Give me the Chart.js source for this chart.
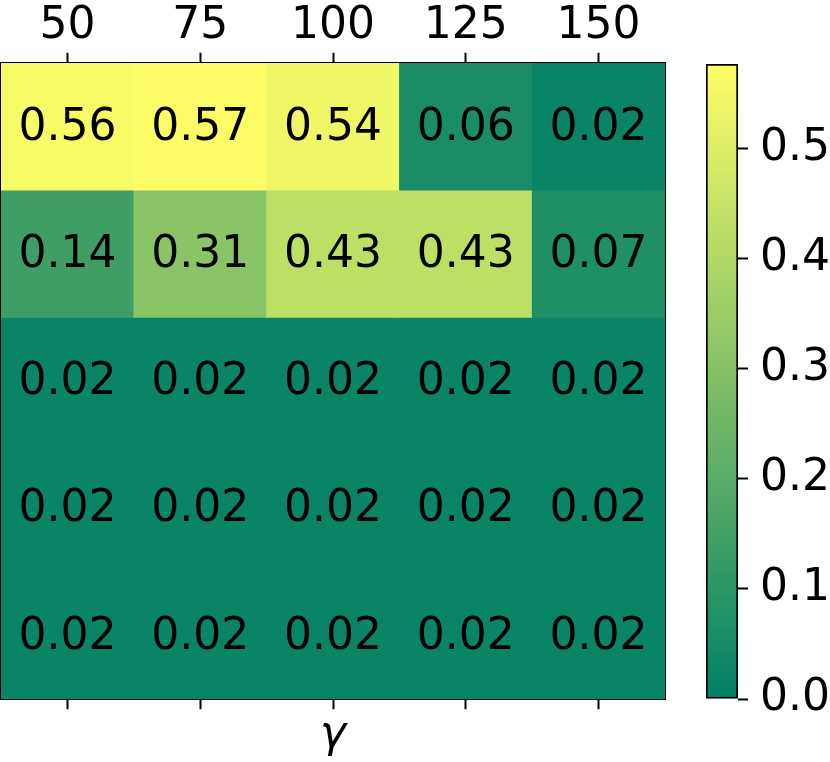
<!DOCTYPE html>
<html>
<head>
<meta charset="utf-8">
<script src="https://cdn.jsdelivr.net/npm/chart.js@4/dist/chart.umd.min.js"></script>
<style>
  html, body { margin: 0; padding: 0; background: #fff; }
  #wrap { position: relative; width: 830px; height: 762px; }
  #heat { position: absolute; left: 0; top: 0; }
  #cbar { position: absolute; left: 690px; top: 0; }
</style>
</head>
<body>
<div id="wrap">
  <canvas id="heat" width="690" height="762"></canvas>
  <canvas id="cbar" width="140" height="762"></canvas>
</div>
<script>
// gamma values (columns) and grid values (rows, top to bottom)
const gammaLabels = ['50', '75', '100', '125', '150'];
const row0 = [0.56, 0.57, 0.54, 0.06, 0.02];
const row1 = [0.14, 0.31, 0.43, 0.43, 0.07];
const row2 = [0.02, 0.02, 0.02, 0.02, 0.02];
const row3 = [0.02, 0.02, 0.02, 0.02, 0.02];
const row4 = [0.02, 0.02, 0.02, 0.02, 0.02];
const rows = [row0, row1, row2, row3, row4];

// colour bar range and ticks
const colorMin = 0;
const colorMax = 0.577;
const cbarTicks = [0.0, 0.1, 0.2, 0.3, 0.4, 0.5];

const FONT = 'DejaVu Sans';

// matplotlib "summer" colormap
function summer(v) {
    let t = (v - colorMin) / (colorMax - colorMin);
    t = Math.max(0, Math.min(1, t));
    const r = Math.round(255 * t);
    const g = Math.round(255 * (0.5 + 0.5 * t));
    return `rgb(${r}, ${g}, 102)`;
}

// write the value in every cell
const cellText = {
    id: 'cellText',
    afterDatasetsDraw(chart) {
        const ctx = chart.ctx;
        ctx.save();
        ctx.font = `44px "${FONT}"`;
        ctx.fillStyle = '#000';
        ctx.textAlign = 'center';
        ctx.textBaseline = 'alphabetic';
        chart.data.datasets.forEach((ds, i) => {
            const meta = chart.getDatasetMeta(i);
            meta.data.forEach((el, j) => {
                const cy = (el.y + el.base) / 2;
                ctx.fillText(ds.values[j].toFixed(2), el.x, cy + 13);
            });
        });
        ctx.restore();
    }
};

const heatDatasets = rows.map((vals, r) => ({
    label: 'row ' + r,
    values: vals,
    data: vals.map(() => [r, r + 1]),
    backgroundColor: vals.map(v => summer(v)),
    borderWidth: 0,
    barPercentage: 1,
    categoryPercentage: 1,
    grouped: false
}));

const tickGrid = {
    offset: false,
    drawOnChartArea: false,
    tickLength: 10,
    tickWidth: 2,
    color: '#000'
};

new Chart(document.getElementById('heat'), {
    type: 'bar',
    data: { labels: gammaLabels, datasets: heatDatasets },
    options: {
        responsive: false,
        animation: false,
        layout: { padding: { left: 1, right: 25, top: 0, bottom: 0 } },
        plugins: { legend: { display: false }, tooltip: { enabled: false } },
        scales: {
            x: {
                type: 'category',
                position: 'top',
                offset: true,
                grid: tickGrid,
                border: { display: true, width: 2, color: '#000' },
                ticks: { color: '#000', padding: 0, font: { family: FONT, size: 44 }, maxRotation: 0 }
            },
            x2: {
                type: 'category',
                position: 'bottom',
                labels: gammaLabels,
                offset: true,
                grid: tickGrid,
                border: { display: true, width: 2, color: '#000' },
                ticks: { display: false },
                title: {
                    display: true,
                    text: 'γ',
                    color: '#000',
                    padding: { top: 0, bottom: 0 },
                    font: { family: FONT, size: 44, style: 'italic' }
                }
            },
            y: {
                type: 'linear',
                position: 'left',
                min: 0,
                max: 5,
                reverse: true,
                grid: { drawOnChartArea: false, drawTicks: false },
                border: { display: true, width: 2, color: '#000' },
                ticks: { display: false }
            },
            yR: {
                type: 'linear',
                position: 'right',
                min: 0,
                max: 5,
                reverse: true,
                grid: { drawOnChartArea: false, drawTicks: false },
                border: { display: true, width: 2, color: '#000' },
                ticks: { display: false }
            }
        }
    },
    plugins: [cellText]
});

// colour bar
new Chart(document.getElementById('cbar'), {
    type: 'bar',
    data: {
        labels: [''],
        datasets: [{
            data: [[colorMin, colorMax]],
            backgroundColor(c) {
                const area = c.chart.chartArea;
                if (!area) return summer(colorMin);
                const ys = c.chart.scales.y;
                const g = c.chart.ctx.createLinearGradient(0, ys.getPixelForValue(colorMin), 0, ys.getPixelForValue(colorMax));
                g.addColorStop(0, summer(colorMin));
                g.addColorStop(1, summer(colorMax));
                return g;
            },
            borderColor: '#000',
            borderWidth: 2,
            borderSkipped: false,
            barPercentage: 1,
            categoryPercentage: 1
        }]
    },
    options: {
        responsive: false,
        animation: false,
        layout: { padding: { left: 16, right: 0, top: 64, bottom: 63 } },
        plugins: { legend: { display: false }, tooltip: { enabled: false } },
        scales: {
            x: { display: false },
            y: {
                position: 'right',
                min: colorMin,
                max: colorMax,
                afterBuildTicks(scale) {
                    scale.ticks = cbarTicks.map(v => ({ value: v }));
                },
                afterFit(scale) {
                    scale.width = 92;
                },
                grid: { drawOnChartArea: false, tickLength: 10, tickWidth: 2, color: '#000' },
                border: { display: false },
                ticks: {
                    color: '#000',
                    padding: 12,
                    font: { family: FONT, size: 44 },
                    callback: v => v.toFixed(1)
                }
            }
        }
    }
});
</script>
</body>
</html>
